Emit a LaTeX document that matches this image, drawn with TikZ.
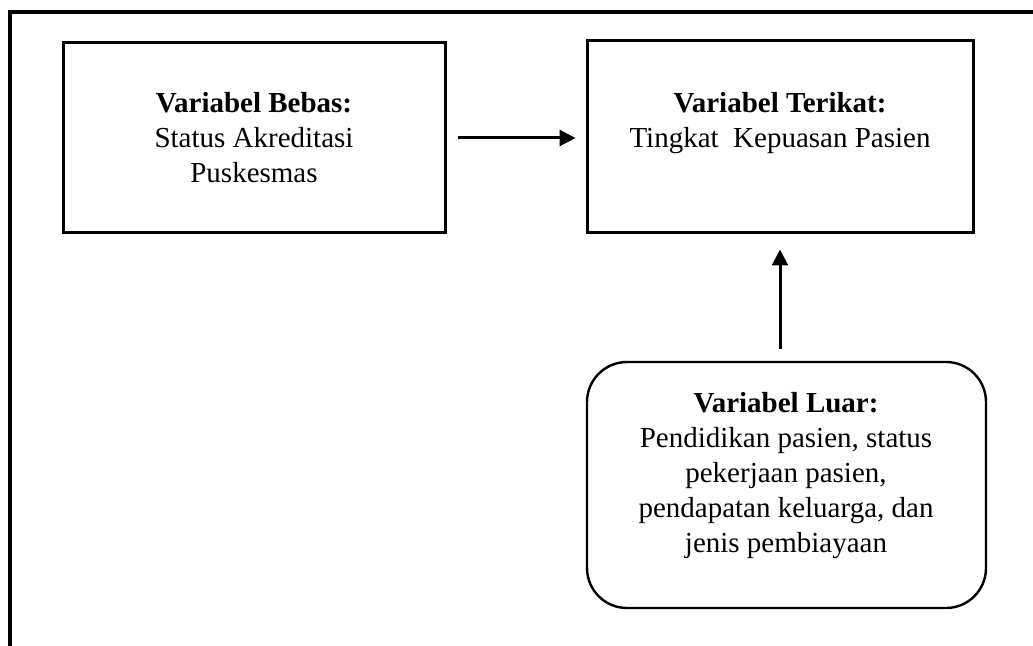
\documentclass[tikz,border=0pt]{standalone}
\usepackage{fontspec}
\setmainfont{Liberation Serif}
\usetikzlibrary{arrows.meta}
\newcommand{\boxfont}{\fontsize{14.5pt}{17.5pt}\selectfont}

\begin{document}
\begin{tikzpicture}[x=0.5pt,y=-0.5pt,
  varbox/.style={draw,line width=1.5pt,align=center,font=\boxfont,inner sep=0pt},
  panah/.style={line width=1.5pt,-{Triangle[length=8pt,width=8pt]}}]
\useasboundingbox (0,0) rectangle (1033,646);
\draw[line width=2pt] (10,646) -- (10,12) -- (1033,12);

\node[varbox,minimum width=191pt,minimum height=95pt] (bebas) at (254,138)
  {\textbf{Variabel Bebas:}\\Status Akreditasi\\Puskesmas};
\node[varbox,minimum width=193pt,minimum height=96pt] (terikat) at (780,137)
  {\textbf{Variabel Terikat:}\\Tingkat\ \ Kepuasan Pasien\\\mbox{}};
\node[draw,line width=1.2pt,rounded corners=20pt,minimum width=199.5pt,minimum height=123pt] (luar) at (786.5,485) {};
\node[align=center,font=\boxfont] (luarteks) at (786,476)
  {\textbf{Variabel Luar:}\\Pendidikan pasien, status\\pekerjaan pasien,\\pendapatan keluarga, dan\\jenis pembiayaan};

\draw[panah,shorten <=5.5pt,shorten >=5pt] (bebas.east) -- (bebas.east -| terikat.west);
\draw[panah,shorten <=6pt,shorten >=7.5pt] (luar.north -| terikat.south) -- (terikat.south);

\end{tikzpicture}
\end{document}
